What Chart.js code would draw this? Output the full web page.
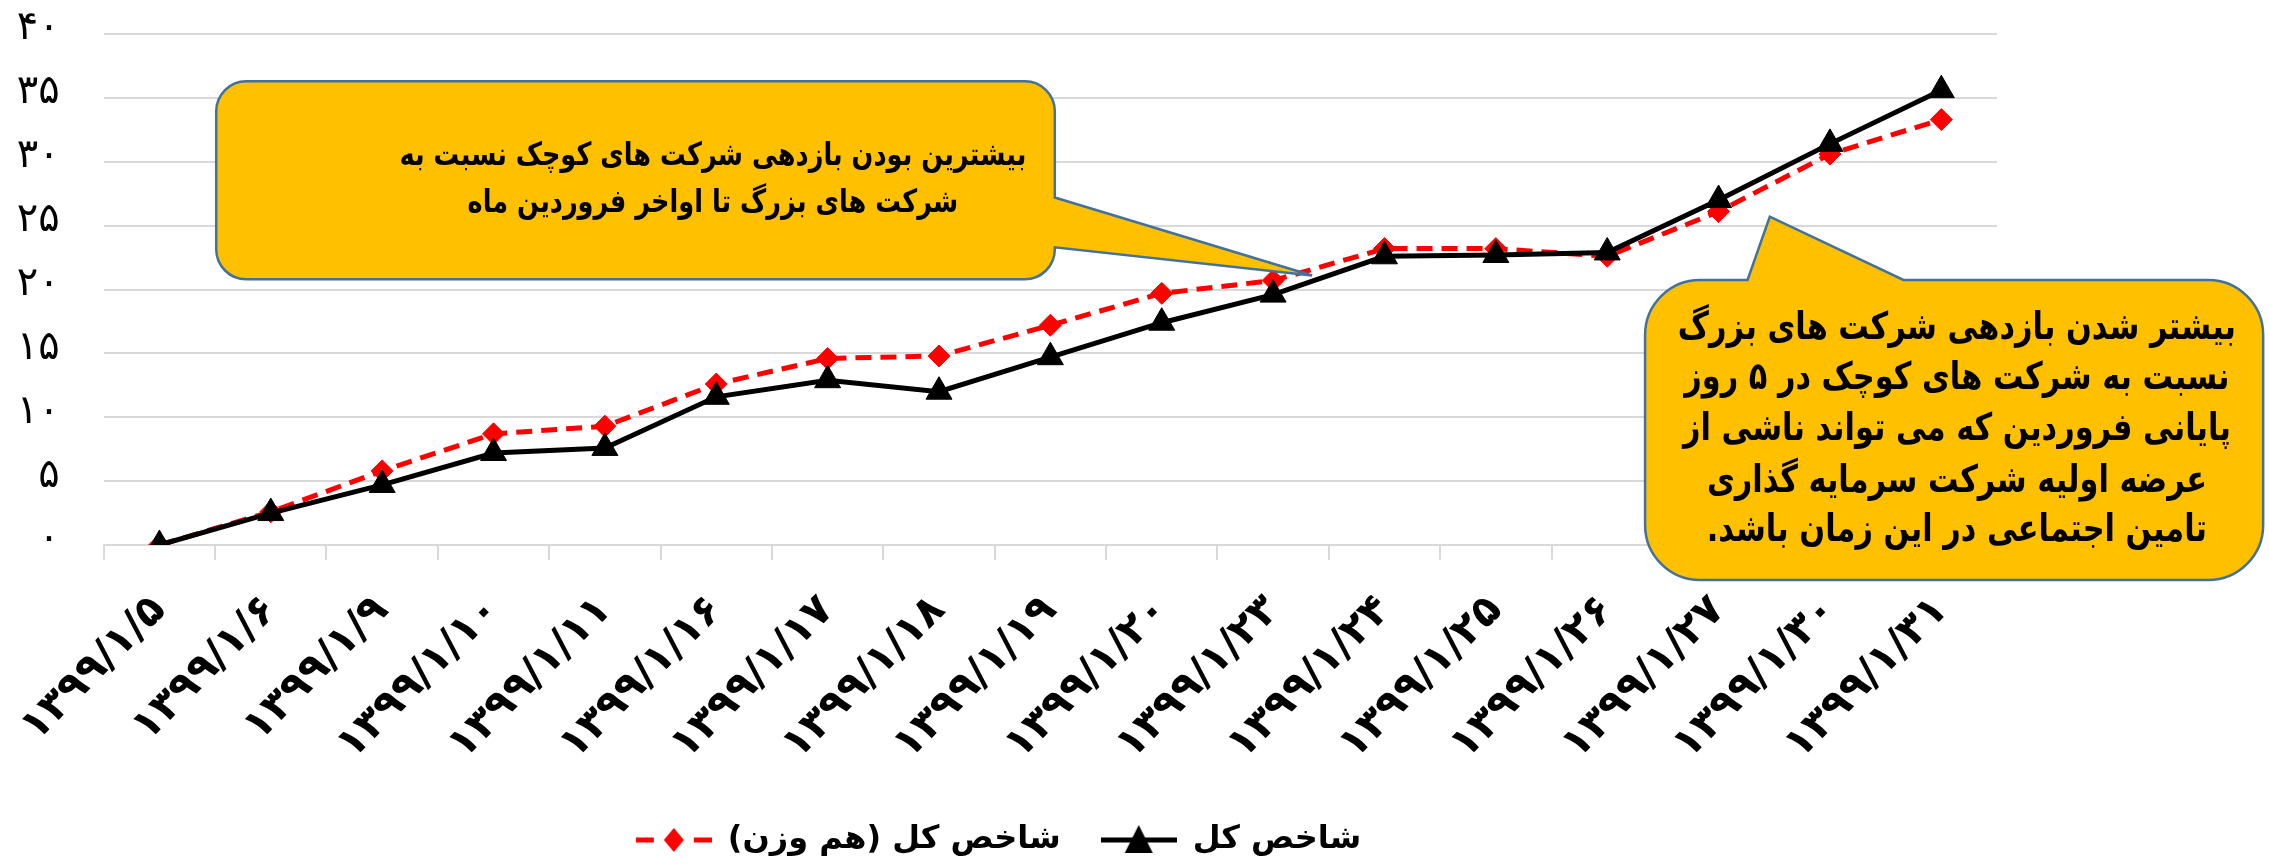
<!DOCTYPE html>
<html>
<head>
<meta charset="utf-8">
<script src="https://cdn.jsdelivr.net/npm/chart.js@4.4.0/dist/chart.umd.min.js"></script>
<style>
  html, body { margin: 0; padding: 0; background: #fff; }
  #wrap { width: 2269px; height: 866px; }
</style>
</head>
<body>
<div id="wrap"><canvas id="indexChart"></canvas></div>
<script>
const dates = ['۱۳۹۹/۱/۵', '۱۳۹۹/۱/۶', '۱۳۹۹/۱/۹', '۱۳۹۹/۱/۱۰', '۱۳۹۹/۱/۱۱', '۱۳۹۹/۱/۱۶',
  '۱۳۹۹/۱/۱۷', '۱۳۹۹/۱/۱۸', '۱۳۹۹/۱/۱۹', '۱۳۹۹/۱/۲۰', '۱۳۹۹/۱/۲۳', '۱۳۹۹/۱/۲۴',
  '۱۳۹۹/۱/۲۵', '۱۳۹۹/۱/۲۶', '۱۳۹۹/۱/۲۷', '۱۳۹۹/۱/۳۰', '۱۳۹۹/۱/۳۱'];

// شاخص کل
const totalIndex = [0, 2.5, 4.7, 7.2, 7.6, 11.6, 12.9, 12.0, 14.7, 17.4, 19.6, 22.6, 22.7, 22.9, 27.0, 31.4, 35.6];
// شاخص کل (هم وزن)
const equalWeightIndex = [0, 2.6, 5.8, 8.7, 9.3, 12.6, 14.6, 14.8, 17.2, 19.7, 20.7, 23.2, 23.2, 22.6, 26.1, 30.6, 33.3];

const seriesNames = ['شاخص کل', 'شاخص کل (هم وزن)'];

const yMax = 40;
const yStep = 5;

const noteSmall = ['بیشترین بودن بازدهی شرکت های کوچک نسبت به', 'شرکت های بزرگ تا اواخر فروردین ماه'];
const noteBig = ['بیشتر شدن بازدهی شرکت های بزرگ', 'نسبت به شرکت های کوچک در ۵ روز',
  'پایانی فروردین که می تواند ناشی از', 'عرضه اولیه شرکت سرمایه گذاری', 'تامین اجتماعی در این زمان باشد.'];

const FONT = "'DejaVu Sans', sans-serif";
const faDigits = '۰۱۲۳۴۵۶۷۸۹';
const toFa = v => String(v).replace(/\d/g, d => faDigits[d]);

// callouts, placed in axis units (x = category index, y = value)
const callouts = [
  { lines: noteSmall, box: [0.51, 36.3, 8.04, 20.8], radius: 30, size: 32, squeeze: 0.8,
    wedge: { side: 'right', from: 27.2, to: 23.3, tip: [10.35, 21.1] },
    text: { x: 4.97, y: [30.4, 26.7] } },
  { lines: noteBig, box: [13.34, 20.75, 18.89, -2.73], radius: 55, size: 38, squeeze: 0.8,
    wedge: { side: 'top', from: 14.26, to: 15.66, tip: [14.46, 25.7] },
    text: { x: 16.14, y: [16.9, 13.0, 9.0, 4.9, 1.1] } }
];

function calloutPath(ctx, l, t, r, b, rad, w) {
  ctx.beginPath();
  ctx.moveTo(l + rad, t);
  if (w.side === 'top') { ctx.lineTo(w.a, t); ctx.lineTo(w.tx, w.ty); ctx.lineTo(w.b, t); }
  ctx.lineTo(r - rad, t);
  ctx.arcTo(r, t, r, t + rad, rad);
  if (w.side === 'right') { ctx.lineTo(r, w.a); ctx.lineTo(w.tx, w.ty); ctx.lineTo(r, w.b); }
  ctx.lineTo(r, b - rad);
  ctx.arcTo(r, b, r - rad, b, rad);
  ctx.lineTo(l + rad, b);
  ctx.arcTo(l, b, l, b - rad, rad);
  ctx.lineTo(l, t + rad);
  ctx.arcTo(l, t, l + rad, t, rad);
  ctx.closePath();
}

const calloutPlugin = {
  id: 'callouts',
  afterDraw(chart) {
    const ctx = chart.ctx;
    const xs = chart.scales.x, ys = chart.scales.y;
    callouts.forEach(c => {
      const l = xs.getPixelForValue(c.box[0]), t = ys.getPixelForValue(c.box[1]);
      const r = xs.getPixelForValue(c.box[2]), b = ys.getPixelForValue(c.box[3]);
      const w = { side: c.wedge.side,
        tx: xs.getPixelForValue(c.wedge.tip[0]), ty: ys.getPixelForValue(c.wedge.tip[1]) };
      if (c.wedge.side === 'top') {
        w.a = xs.getPixelForValue(c.wedge.from); w.b = xs.getPixelForValue(c.wedge.to);
      } else {
        w.a = ys.getPixelForValue(c.wedge.from); w.b = ys.getPixelForValue(c.wedge.to);
      }
      ctx.save();
      calloutPath(ctx, l, t, r, b, c.radius, w);
      ctx.fillStyle = '#FFC000';
      ctx.fill();
      ctx.lineWidth = 2.5;
      ctx.strokeStyle = '#41719C';
      ctx.stroke();
      ctx.fillStyle = '#000';
      ctx.font = 'bold ' + c.size + 'px ' + FONT;
      ctx.direction = 'rtl';
      ctx.textAlign = 'center';
      ctx.textBaseline = 'middle';
      const tx = xs.getPixelForValue(c.text.x);
      c.lines.forEach((line, i) => {
        ctx.save();
        ctx.translate(tx, ys.getPixelForValue(c.text.y[i]));
        ctx.scale(c.squeeze, 1);
        ctx.fillText(line, 0, 0);
        ctx.restore();
      });
      ctx.restore();
    });
  }
};

// legend icons: line + marker, like the spreadsheet legend
function legendIcon(dashed) {
  const cv = document.createElement('canvas');
  cv.width = 76; cv.height = 34;
  const g = cv.getContext('2d');
  g.lineWidth = 5;
  g.strokeStyle = dashed ? '#FF0000' : '#000';
  g.fillStyle = dashed ? '#FF0000' : '#000';
  if (dashed) g.setLineDash([18, 40]);
  g.beginPath(); g.moveTo(0, 17); g.lineTo(76, 17); g.stroke();
  g.setLineDash([]);
  g.beginPath();
  if (dashed) {
    g.moveTo(38, 5); g.lineTo(48, 17); g.lineTo(38, 29); g.lineTo(28, 17);
  } else {
    g.moveTo(38, 2); g.lineTo(52, 30); g.lineTo(24, 30);
  }
  g.closePath(); g.fill();
  return cv;
}
const legendIcons = [legendIcon(false), legendIcon(true)];

new Chart(document.getElementById('indexChart'), {
  type: 'line',
  plugins: [calloutPlugin],
  data: {
    labels: dates,
    datasets: [
      {
        label: seriesNames[0],
        data: totalIndex,
        borderColor: '#000',
        backgroundColor: '#000',
        borderWidth: 5,
        pointStyle: 'triangle',
        pointRadius: 15,
        pointBackgroundColor: '#000',
        pointBorderColor: '#000',
        pointBorderWidth: 1,
        tension: 0
      },
      {
        label: seriesNames[1],
        data: equalWeightIndex,
        borderColor: '#FF0000',
        backgroundColor: '#FF0000',
        borderWidth: 5,
        borderDash: [16, 9],
        pointStyle: 'rectRot',
        pointRadius: 11,
        pointBackgroundColor: '#FF0000',
        pointBorderColor: '#FF0000',
        pointBorderWidth: 1,
        tension: 0
      }
    ]
  },
  options: {
    responsive: true,
    maintainAspectRatio: false,
    animation: false,
    layout: { padding: { top: 34, right: 272, left: 0, bottom: 0 } },
    scales: {
      x: {
        offset: true,
        afterFit: s => { s.height = 239; },
        grid: { display: true, drawOnChartArea: false, drawTicks: true, tickLength: 15,
          color: '#D9D9D9', lineWidth: 2, offset: true },
        border: { display: true, color: '#D9D9D9', width: 2 },
        ticks: {
          autoSkip: false, minRotation: 45, maxRotation: 45, padding: 26,
          color: '#000', font: { family: FONT, size: 42, weight: 'bold' }
        }
      },
      y: {
        min: 0, max: yMax,
        afterFit: s => { s.width = 101; s.paddingTop = 0; s.paddingBottom = 0; },
        grid: { color: '#D9D9D9', lineWidth: 2, drawTicks: false },
        border: { display: false },
        ticks: {
          stepSize: yStep, padding: 44, labelOffset: -5, color: '#000',
          font: { family: FONT, size: 40 },
          callback: v => toFa(v)
        }
      }
    },
    plugins: {
      tooltip: { enabled: false },
      legend: {
        position: 'bottom',
        reverse: true,
        textDirection: 'rtl',
        labels: {
          usePointStyle: true,
          pointStyleWidth: 76,
          padding: 40,
          color: '#000',
          font: { family: FONT, size: 32, weight: 'bold' },
          generateLabels: chart => {
            const items = Chart.defaults.plugins.legend.labels.generateLabels(chart);
            items.forEach(it => { it.pointStyle = legendIcons[it.datasetIndex]; });
            return items;
          }
        }
      }
    }
  }
});
</script>
</body>
</html>
